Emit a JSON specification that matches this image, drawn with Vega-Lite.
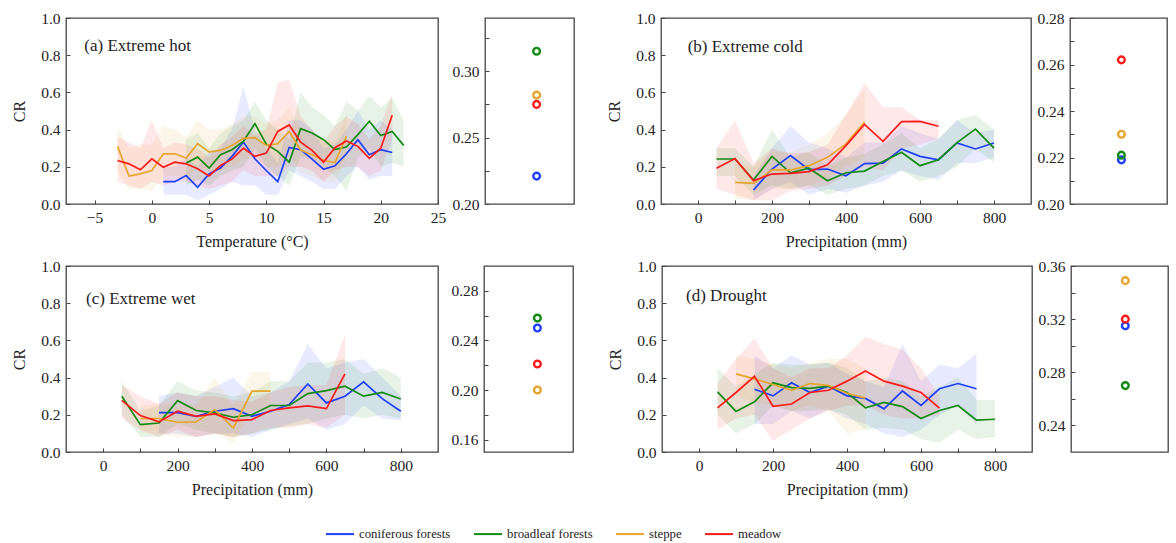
{
  "$schema": "https://vega.github.io/schema/vega-lite/v6.json",
  "background": "white",
  "padding": {"left": 10, "top": 10, "right": 0, "bottom": 0},
  "datasets": {
    "a": [
      {"g":"coniferous forests","x":1,"y":0.12,"lo":0.05,"hi":0.2},
      {"g":"coniferous forests","x":2,"y":0.12,"lo":0.05,"hi":0.2},
      {"g":"coniferous forests","x":3,"y":0.153,"lo":0.05,"hi":0.25},
      {"g":"coniferous forests","x":4,"y":0.09,"lo":0.02,"hi":0.2},
      {"g":"coniferous forests","x":5,"y":0.162,"lo":0.05,"hi":0.28},
      {"g":"coniferous forests","x":6,"y":0.193,"lo":0.08,"hi":0.3},
      {"g":"coniferous forests","x":7,"y":0.256,"lo":0.12,"hi":0.4},
      {"g":"coniferous forests","x":8,"y":0.333,"lo":0.1,"hi":0.63},
      {"g":"coniferous forests","x":9,"y":0.243,"lo":0.1,"hi":0.4},
      {"g":"coniferous forests","x":10,"y":0.18,"lo":0.05,"hi":0.3},
      {"g":"coniferous forests","x":11,"y":0.12,"lo":0.05,"hi":0.22},
      {"g":"coniferous forests","x":12,"y":0.304,"lo":0.18,"hi":0.45},
      {"g":"coniferous forests","x":13,"y":0.292,"lo":0.15,"hi":0.45},
      {"g":"coniferous forests","x":14,"y":0.241,"lo":0.12,"hi":0.4},
      {"g":"coniferous forests","x":15,"y":0.187,"lo":0.08,"hi":0.3},
      {"g":"coniferous forests","x":16,"y":0.205,"lo":0.08,"hi":0.32},
      {"g":"coniferous forests","x":17,"y":0.27,"lo":0.15,"hi":0.4},
      {"g":"coniferous forests","x":18,"y":0.346,"lo":0.2,"hi":0.5},
      {"g":"coniferous forests","x":19,"y":0.265,"lo":0.13,"hi":0.4},
      {"g":"coniferous forests","x":20,"y":0.292,"lo":0.15,"hi":0.45},
      {"g":"coniferous forests","x":21,"y":0.277,"lo":0.15,"hi":0.4},
      {"g":"broadleaf forests","x":3,"y":0.22,"lo":0.1,"hi":0.35},
      {"g":"broadleaf forests","x":4,"y":0.252,"lo":0.13,"hi":0.38},
      {"g":"broadleaf forests","x":5,"y":0.193,"lo":0.1,"hi":0.3},
      {"g":"broadleaf forests","x":6,"y":0.265,"lo":0.15,"hi":0.38},
      {"g":"broadleaf forests","x":7,"y":0.292,"lo":0.18,"hi":0.42},
      {"g":"broadleaf forests","x":8,"y":0.337,"lo":0.2,"hi":0.45},
      {"g":"broadleaf forests","x":9,"y":0.432,"lo":0.3,"hi":0.55},
      {"g":"broadleaf forests","x":10,"y":0.322,"lo":0.2,"hi":0.45},
      {"g":"broadleaf forests","x":11,"y":0.283,"lo":0.15,"hi":0.4},
      {"g":"broadleaf forests","x":12,"y":0.225,"lo":0.1,"hi":0.35},
      {"g":"broadleaf forests","x":13,"y":0.405,"lo":0.25,"hi":0.6},
      {"g":"broadleaf forests","x":14,"y":0.382,"lo":0.25,"hi":0.52},
      {"g":"broadleaf forests","x":15,"y":0.346,"lo":0.2,"hi":0.48},
      {"g":"broadleaf forests","x":16,"y":0.292,"lo":0.15,"hi":0.42},
      {"g":"broadleaf forests","x":17,"y":0.306,"lo":0.07,"hi":0.55},
      {"g":"broadleaf forests","x":18,"y":0.373,"lo":0.25,"hi":0.5},
      {"g":"broadleaf forests","x":19,"y":0.445,"lo":0.3,"hi":0.58},
      {"g":"broadleaf forests","x":20,"y":0.368,"lo":0.2,"hi":0.52},
      {"g":"broadleaf forests","x":21,"y":0.39,"lo":0.22,"hi":0.57},
      {"g":"broadleaf forests","x":22,"y":0.315,"lo":0.2,"hi":0.45},
      {"g":"steppe","x":-3,"y":0.31,"lo":0.18,"hi":0.42},
      {"g":"steppe","x":-2,"y":0.15,"lo":0.08,"hi":0.3},
      {"g":"steppe","x":-1,"y":0.162,"lo":0.08,"hi":0.32},
      {"g":"steppe","x":0,"y":0.18,"lo":0.07,"hi":0.32},
      {"g":"steppe","x":1,"y":0.27,"lo":0.15,"hi":0.42},
      {"g":"steppe","x":2,"y":0.27,"lo":0.15,"hi":0.4},
      {"g":"steppe","x":3,"y":0.247,"lo":0.13,"hi":0.36},
      {"g":"steppe","x":4,"y":0.324,"lo":0.2,"hi":0.45},
      {"g":"steppe","x":5,"y":0.28,"lo":0.17,"hi":0.4},
      {"g":"steppe","x":6,"y":0.288,"lo":0.18,"hi":0.4},
      {"g":"steppe","x":7,"y":0.315,"lo":0.2,"hi":0.43},
      {"g":"steppe","x":8,"y":0.353,"lo":0.24,"hi":0.47},
      {"g":"steppe","x":9,"y":0.357,"lo":0.25,"hi":0.47},
      {"g":"steppe","x":10,"y":0.315,"lo":0.2,"hi":0.43},
      {"g":"steppe","x":11,"y":0.324,"lo":0.2,"hi":0.45},
      {"g":"steppe","x":12,"y":0.39,"lo":0.27,"hi":0.52},
      {"g":"steppe","x":13,"y":0.29,"lo":0.17,"hi":0.4},
      {"g":"steppe","x":14,"y":0.265,"lo":0.15,"hi":0.38},
      {"g":"steppe","x":15,"y":0.234,"lo":0.12,"hi":0.35},
      {"g":"steppe","x":16,"y":0.223,"lo":0.12,"hi":0.33},
      {"g":"steppe","x":17,"y":0.364,"lo":0.25,"hi":0.48},
      {"g":"meadow","x":-3,"y":0.234,"lo":0.12,"hi":0.36},
      {"g":"meadow","x":-2,"y":0.216,"lo":0.1,"hi":0.33},
      {"g":"meadow","x":-1,"y":0.184,"lo":0.08,"hi":0.3},
      {"g":"meadow","x":0,"y":0.243,"lo":0.12,"hi":0.45},
      {"g":"meadow","x":1,"y":0.198,"lo":0.1,"hi":0.3},
      {"g":"meadow","x":2,"y":0.225,"lo":0.12,"hi":0.33},
      {"g":"meadow","x":3,"y":0.216,"lo":0.12,"hi":0.32},
      {"g":"meadow","x":4,"y":0.19,"lo":0.1,"hi":0.3},
      {"g":"meadow","x":5,"y":0.151,"lo":0.08,"hi":0.25},
      {"g":"meadow","x":6,"y":0.207,"lo":0.1,"hi":0.32},
      {"g":"meadow","x":7,"y":0.241,"lo":0.12,"hi":0.36},
      {"g":"meadow","x":8,"y":0.3,"lo":0.18,"hi":0.42},
      {"g":"meadow","x":9,"y":0.256,"lo":0.15,"hi":0.37},
      {"g":"meadow","x":10,"y":0.274,"lo":0.15,"hi":0.4},
      {"g":"meadow","x":11,"y":0.39,"lo":0.15,"hi":0.65},
      {"g":"meadow","x":12,"y":0.425,"lo":0.2,"hi":0.67},
      {"g":"meadow","x":13,"y":0.333,"lo":0.2,"hi":0.47},
      {"g":"meadow","x":14,"y":0.288,"lo":0.18,"hi":0.4},
      {"g":"meadow","x":15,"y":0.225,"lo":0.12,"hi":0.33},
      {"g":"meadow","x":16,"y":0.303,"lo":0.18,"hi":0.42},
      {"g":"meadow","x":17,"y":0.339,"lo":0.2,"hi":0.47},
      {"g":"meadow","x":18,"y":0.31,"lo":0.2,"hi":0.43},
      {"g":"meadow","x":19,"y":0.245,"lo":0.15,"hi":0.35},
      {"g":"meadow","x":20,"y":0.3,"lo":0.18,"hi":0.42},
      {"g":"meadow","x":21,"y":0.477,"lo":0.35,"hi":0.6}
    ],
    "b": [
      {"g":"coniferous forests","x":150,"y":0.075,"lo":0.02,"hi":0.15},
      {"g":"coniferous forests","x":200,"y":0.188,"lo":0.08,"hi":0.3},
      {"g":"coniferous forests","x":250,"y":0.26,"lo":0.12,"hi":0.42},
      {"g":"coniferous forests","x":300,"y":0.185,"lo":0.05,"hi":0.33},
      {"g":"coniferous forests","x":350,"y":0.188,"lo":0.08,"hi":0.3},
      {"g":"coniferous forests","x":400,"y":0.152,"lo":0.06,"hi":0.25},
      {"g":"coniferous forests","x":450,"y":0.217,"lo":0.1,"hi":0.33},
      {"g":"coniferous forests","x":500,"y":0.22,"lo":0.12,"hi":0.33},
      {"g":"coniferous forests","x":550,"y":0.296,"lo":0.18,"hi":0.42},
      {"g":"coniferous forests","x":600,"y":0.256,"lo":0.15,"hi":0.38},
      {"g":"coniferous forests","x":650,"y":0.238,"lo":0.13,"hi":0.35},
      {"g":"coniferous forests","x":700,"y":0.328,"lo":0.22,"hi":0.45},
      {"g":"coniferous forests","x":750,"y":0.296,"lo":0.22,"hi":0.38},
      {"g":"coniferous forests","x":800,"y":0.328,"lo":0.25,"hi":0.4},
      {"g":"broadleaf forests","x":50,"y":0.242,"lo":0.15,"hi":0.3},
      {"g":"broadleaf forests","x":100,"y":0.242,"lo":0.15,"hi":0.3},
      {"g":"broadleaf forests","x":150,"y":0.129,"lo":0.05,"hi":0.2},
      {"g":"broadleaf forests","x":200,"y":0.256,"lo":0.1,"hi":0.4},
      {"g":"broadleaf forests","x":250,"y":0.167,"lo":0.08,"hi":0.25},
      {"g":"broadleaf forests","x":300,"y":0.192,"lo":0.1,"hi":0.28},
      {"g":"broadleaf forests","x":350,"y":0.125,"lo":0.05,"hi":0.2},
      {"g":"broadleaf forests","x":400,"y":0.168,"lo":0.08,"hi":0.25},
      {"g":"broadleaf forests","x":450,"y":0.177,"lo":0.1,"hi":0.27},
      {"g":"broadleaf forests","x":500,"y":0.229,"lo":0.15,"hi":0.32},
      {"g":"broadleaf forests","x":550,"y":0.278,"lo":0.18,"hi":0.38},
      {"g":"broadleaf forests","x":600,"y":0.206,"lo":0.12,"hi":0.3},
      {"g":"broadleaf forests","x":650,"y":0.238,"lo":0.15,"hi":0.35},
      {"g":"broadleaf forests","x":700,"y":0.33,"lo":0.2,"hi":0.45},
      {"g":"broadleaf forests","x":750,"y":0.403,"lo":0.3,"hi":0.48},
      {"g":"broadleaf forests","x":800,"y":0.3,"lo":0.22,"hi":0.4},
      {"g":"steppe","x":100,"y":0.116,"lo":0.03,"hi":0.22},
      {"g":"steppe","x":150,"y":0.111,"lo":0.02,"hi":0.2},
      {"g":"steppe","x":200,"y":0.183,"lo":0.08,"hi":0.28},
      {"g":"steppe","x":250,"y":0.183,"lo":0.08,"hi":0.28},
      {"g":"steppe","x":300,"y":0.206,"lo":0.1,"hi":0.32},
      {"g":"steppe","x":350,"y":0.251,"lo":0.13,"hi":0.38},
      {"g":"steppe","x":400,"y":0.323,"lo":0.2,"hi":0.48},
      {"g":"steppe","x":450,"y":0.44,"lo":0.25,"hi":0.62},
      {"g":"meadow","x":50,"y":0.192,"lo":0.08,"hi":0.3},
      {"g":"meadow","x":100,"y":0.244,"lo":0.05,"hi":0.45},
      {"g":"meadow","x":150,"y":0.125,"lo":0.02,"hi":0.22},
      {"g":"meadow","x":200,"y":0.161,"lo":0.02,"hi":0.3},
      {"g":"meadow","x":250,"y":0.165,"lo":0.07,"hi":0.27},
      {"g":"meadow","x":300,"y":0.174,"lo":0.08,"hi":0.28},
      {"g":"meadow","x":350,"y":0.211,"lo":0.1,"hi":0.32},
      {"g":"meadow","x":400,"y":0.314,"lo":0.15,"hi":0.48},
      {"g":"meadow","x":450,"y":0.428,"lo":0.2,"hi":0.65},
      {"g":"meadow","x":500,"y":0.337,"lo":0.18,"hi":0.52},
      {"g":"meadow","x":550,"y":0.443,"lo":0.3,"hi":0.52},
      {"g":"meadow","x":600,"y":0.444,"lo":0.32,"hi":0.45},
      {"g":"meadow","x":650,"y":0.418,"lo":0.35,"hi":0.45}
    ],
    "c": [
      {"g":"coniferous forests","x":150,"y":0.212,"lo":0.1,"hi":0.3},
      {"g":"coniferous forests","x":200,"y":0.212,"lo":0.1,"hi":0.32},
      {"g":"coniferous forests","x":250,"y":0.192,"lo":0.08,"hi":0.3},
      {"g":"coniferous forests","x":300,"y":0.219,"lo":0.1,"hi":0.35},
      {"g":"coniferous forests","x":350,"y":0.233,"lo":0.1,"hi":0.4},
      {"g":"coniferous forests","x":400,"y":0.192,"lo":0.08,"hi":0.3},
      {"g":"coniferous forests","x":450,"y":0.219,"lo":0.12,"hi":0.32},
      {"g":"coniferous forests","x":500,"y":0.255,"lo":0.15,"hi":0.38},
      {"g":"coniferous forests","x":550,"y":0.366,"lo":0.18,"hi":0.58},
      {"g":"coniferous forests","x":600,"y":0.264,"lo":0.12,"hi":0.45},
      {"g":"coniferous forests","x":650,"y":0.3,"lo":0.15,"hi":0.48},
      {"g":"coniferous forests","x":700,"y":0.377,"lo":0.25,"hi":0.5},
      {"g":"coniferous forests","x":750,"y":0.287,"lo":0.18,"hi":0.4},
      {"g":"coniferous forests","x":800,"y":0.219,"lo":0.17,"hi":0.3},
      {"g":"broadleaf forests","x":50,"y":0.3,"lo":0.2,"hi":0.38},
      {"g":"broadleaf forests","x":100,"y":0.147,"lo":0.08,"hi":0.22},
      {"g":"broadleaf forests","x":150,"y":0.156,"lo":0.08,"hi":0.25},
      {"g":"broadleaf forests","x":200,"y":0.276,"lo":0.15,"hi":0.38},
      {"g":"broadleaf forests","x":250,"y":0.223,"lo":0.12,"hi":0.33},
      {"g":"broadleaf forests","x":300,"y":0.21,"lo":0.1,"hi":0.32},
      {"g":"broadleaf forests","x":350,"y":0.187,"lo":0.08,"hi":0.3},
      {"g":"broadleaf forests","x":400,"y":0.201,"lo":0.1,"hi":0.32},
      {"g":"broadleaf forests","x":450,"y":0.25,"lo":0.12,"hi":0.38},
      {"g":"broadleaf forests","x":500,"y":0.25,"lo":0.14,"hi":0.38},
      {"g":"broadleaf forests","x":550,"y":0.314,"lo":0.15,"hi":0.48},
      {"g":"broadleaf forests","x":600,"y":0.33,"lo":0.18,"hi":0.48},
      {"g":"broadleaf forests","x":650,"y":0.354,"lo":0.2,"hi":0.5},
      {"g":"broadleaf forests","x":700,"y":0.3,"lo":0.18,"hi":0.42},
      {"g":"broadleaf forests","x":750,"y":0.32,"lo":0.2,"hi":0.45},
      {"g":"broadleaf forests","x":800,"y":0.285,"lo":0.18,"hi":0.4},
      {"g":"steppe","x":100,"y":0.18,"lo":0.1,"hi":0.25},
      {"g":"steppe","x":150,"y":0.18,"lo":0.1,"hi":0.26},
      {"g":"steppe","x":200,"y":0.16,"lo":0.08,"hi":0.25},
      {"g":"steppe","x":250,"y":0.162,"lo":0.08,"hi":0.25},
      {"g":"steppe","x":300,"y":0.228,"lo":0.1,"hi":0.4},
      {"g":"steppe","x":350,"y":0.129,"lo":0.05,"hi":0.25},
      {"g":"steppe","x":400,"y":0.327,"lo":0.22,"hi":0.43},
      {"g":"steppe","x":450,"y":0.327,"lo":0.22,"hi":0.43},
      {"g":"meadow","x":50,"y":0.278,"lo":0.18,"hi":0.36},
      {"g":"meadow","x":100,"y":0.196,"lo":0.12,"hi":0.3},
      {"g":"meadow","x":150,"y":0.162,"lo":0.08,"hi":0.26},
      {"g":"meadow","x":200,"y":0.219,"lo":0.12,"hi":0.32},
      {"g":"meadow","x":250,"y":0.192,"lo":0.08,"hi":0.3},
      {"g":"meadow","x":300,"y":0.205,"lo":0.1,"hi":0.3},
      {"g":"meadow","x":350,"y":0.169,"lo":0.08,"hi":0.28},
      {"g":"meadow","x":400,"y":0.174,"lo":0.1,"hi":0.27},
      {"g":"meadow","x":450,"y":0.223,"lo":0.13,"hi":0.32},
      {"g":"meadow","x":500,"y":0.237,"lo":0.13,"hi":0.35},
      {"g":"meadow","x":550,"y":0.248,"lo":0.15,"hi":0.36},
      {"g":"meadow","x":600,"y":0.233,"lo":0.13,"hi":0.36},
      {"g":"meadow","x":650,"y":0.42,"lo":0.2,"hi":0.63}
    ],
    "d": [
      {"g":"coniferous forests","x":150,"y":0.337,"lo":0.15,"hi":0.52},
      {"g":"coniferous forests","x":200,"y":0.302,"lo":0.15,"hi":0.45},
      {"g":"coniferous forests","x":250,"y":0.372,"lo":0.22,"hi":0.52},
      {"g":"coniferous forests","x":300,"y":0.32,"lo":0.18,"hi":0.47},
      {"g":"coniferous forests","x":350,"y":0.354,"lo":0.23,"hi":0.48},
      {"g":"coniferous forests","x":400,"y":0.302,"lo":0.18,"hi":0.42},
      {"g":"coniferous forests","x":450,"y":0.288,"lo":0.15,"hi":0.38},
      {"g":"coniferous forests","x":500,"y":0.232,"lo":0.1,"hi":0.35},
      {"g":"coniferous forests","x":550,"y":0.328,"lo":0.08,"hi":0.58},
      {"g":"coniferous forests","x":600,"y":0.25,"lo":0.12,"hi":0.38},
      {"g":"coniferous forests","x":650,"y":0.34,"lo":0.2,"hi":0.47},
      {"g":"coniferous forests","x":700,"y":0.368,"lo":0.25,"hi":0.45},
      {"g":"coniferous forests","x":750,"y":0.34,"lo":0.15,"hi":0.53},
      {"g":"broadleaf forests","x":50,"y":0.323,"lo":0.2,"hi":0.45},
      {"g":"broadleaf forests","x":100,"y":0.218,"lo":0.1,"hi":0.35},
      {"g":"broadleaf forests","x":150,"y":0.27,"lo":0.15,"hi":0.42},
      {"g":"broadleaf forests","x":200,"y":0.372,"lo":0.25,"hi":0.48},
      {"g":"broadleaf forests","x":250,"y":0.346,"lo":0.22,"hi":0.47},
      {"g":"broadleaf forests","x":300,"y":0.342,"lo":0.22,"hi":0.47},
      {"g":"broadleaf forests","x":350,"y":0.354,"lo":0.23,"hi":0.48},
      {"g":"broadleaf forests","x":400,"y":0.32,"lo":0.2,"hi":0.45},
      {"g":"broadleaf forests","x":450,"y":0.237,"lo":0.12,"hi":0.38},
      {"g":"broadleaf forests","x":500,"y":0.267,"lo":0.13,"hi":0.4},
      {"g":"broadleaf forests","x":550,"y":0.244,"lo":0.12,"hi":0.38},
      {"g":"broadleaf forests","x":600,"y":0.18,"lo":0.07,"hi":0.3},
      {"g":"broadleaf forests","x":650,"y":0.223,"lo":0.05,"hi":0.35},
      {"g":"broadleaf forests","x":700,"y":0.25,"lo":0.12,"hi":0.4},
      {"g":"broadleaf forests","x":750,"y":0.171,"lo":0.07,"hi":0.28},
      {"g":"broadleaf forests","x":800,"y":0.176,"lo":0.08,"hi":0.28},
      {"g":"steppe","x":100,"y":0.42,"lo":0.3,"hi":0.52},
      {"g":"steppe","x":150,"y":0.393,"lo":0.27,"hi":0.5},
      {"g":"steppe","x":200,"y":0.363,"lo":0.25,"hi":0.47},
      {"g":"steppe","x":250,"y":0.332,"lo":0.22,"hi":0.45},
      {"g":"steppe","x":300,"y":0.368,"lo":0.25,"hi":0.48},
      {"g":"steppe","x":350,"y":0.358,"lo":0.22,"hi":0.5},
      {"g":"steppe","x":400,"y":0.316,"lo":0.1,"hi":0.5},
      {"g":"steppe","x":450,"y":0.29,"lo":0.12,"hi":0.45},
      {"g":"meadow","x":50,"y":0.237,"lo":0.12,"hi":0.37},
      {"g":"meadow","x":100,"y":0.32,"lo":0.18,"hi":0.5},
      {"g":"meadow","x":150,"y":0.407,"lo":0.2,"hi":0.61},
      {"g":"meadow","x":200,"y":0.246,"lo":0.06,"hi":0.45},
      {"g":"meadow","x":250,"y":0.258,"lo":0.12,"hi":0.4},
      {"g":"meadow","x":300,"y":0.32,"lo":0.18,"hi":0.45},
      {"g":"meadow","x":350,"y":0.332,"lo":0.22,"hi":0.45},
      {"g":"meadow","x":400,"y":0.381,"lo":0.25,"hi":0.52},
      {"g":"meadow","x":450,"y":0.436,"lo":0.25,"hi":0.62},
      {"g":"meadow","x":500,"y":0.381,"lo":0.2,"hi":0.58},
      {"g":"meadow","x":550,"y":0.354,"lo":0.18,"hi":0.55},
      {"g":"meadow","x":600,"y":0.32,"lo":0.18,"hi":0.45},
      {"g":"meadow","x":650,"y":0.236,"lo":0.2,"hi":0.3}
    ],
    "means": [
      {"p":"a","g":"coniferous forests","v":0.221},
      {"p":"a","g":"broadleaf forests","v":0.315},
      {"p":"a","g":"steppe","v":0.282},
      {"p":"a","g":"meadow","v":0.275},
      {"p":"b","g":"coniferous forests","v":0.219},
      {"p":"b","g":"broadleaf forests","v":0.221},
      {"p":"b","g":"steppe","v":0.23},
      {"p":"b","g":"meadow","v":0.262},
      {"p":"c","g":"coniferous forests","v":0.25},
      {"p":"c","g":"broadleaf forests","v":0.258},
      {"p":"c","g":"steppe","v":0.2},
      {"p":"c","g":"meadow","v":0.221},
      {"p":"d","g":"coniferous forests","v":0.315},
      {"p":"d","g":"broadleaf forests","v":0.27},
      {"p":"d","g":"steppe","v":0.349},
      {"p":"d","g":"meadow","v":0.32}
    ]
  },
  "vconcat": [
    {
      "hconcat": [
        {
          "hconcat": [
            {
              "width": 372, "height": 186,
              "layer": [
                {"data": {"name": "a"}, "mark": {"type": "area", "opacity": 0.1},
                 "encoding": {
                   "x": {"field": "x", "type": "quantitative", "scale": {"domain": [-7.5, 25], "nice": false, "zero": false}, "axis": {"title": "Temperature (°C)", "values": [-5, 0, 5, 10, 15, 20, 25], "tickCount": 40, "labelFlush": false, "labelOverlap": false}},
                   "y": {"field": "lo", "type": "quantitative", "scale": {"domain": [0, 1], "nice": false}, "axis": {"title": "CR", "values": [0, 0.2, 0.4, 0.6, 0.8, 1.0], "tickCount": 40, "format": ".1f", "labelOverlap": false}},
                   "y2": {"field": "hi"},
                   "color": {"field": "g", "type": "nominal", "scale": {"domain": ["coniferous forests", "broadleaf forests", "steppe", "meadow"], "range": ["#1f3fff", "#138a13", "#e6a52e", "#ff1a1a"]}, "legend": {"orient": "none", "legendX": 259, "legendY": 501, "direction": "horizontal", "title": null, "symbolType": "stroke", "symbolStrokeWidth": 2, "symbolSize": 784, "symbolOpacity": 1, "labelFont": "Liberation Serif", "labelFontSize": 12.8, "labelColor": "#222", "columnPadding": 19, "labelOffset": 4, "padding": 0}}
                 }},
                {"data": {"name": "a"}, "mark": {"type": "line", "strokeWidth": 1.7},
                 "encoding": {
                   "x": {"field": "x", "type": "quantitative"},
                   "y": {"field": "y", "type": "quantitative"},
                   "color": {"field": "g", "type": "nominal", "scale": {"domain": ["coniferous forests", "broadleaf forests", "steppe", "meadow"], "range": ["#1f3fff", "#138a13", "#e6a52e", "#ff1a1a"]}, "legend": {"orient": "none", "legendX": 259, "legendY": 501, "direction": "horizontal", "title": null, "symbolType": "stroke", "symbolStrokeWidth": 2, "symbolSize": 784, "symbolOpacity": 1, "labelFont": "Liberation Serif", "labelFontSize": 12.8, "labelColor": "#222", "columnPadding": 19, "labelOffset": 4, "padding": 0}}
                 }},
                {"data": {"values": [{}]}, "mark": {"type": "text", "text": "(a) Extreme hot", "align": "left", "baseline": "middle", "font": "Liberation Serif", "fontSize": 17, "color": "#222"},
                 "encoding": {"x": {"datum": -5.9, "type": "quantitative"}, "y": {"datum": 0.852, "type": "quantitative"}}}
              ]
            },
            {
              "width": 89, "height": 186,
              "data": {"name": "means"},
              "transform": [{"filter": "datum.p == 'a'"}],
              "mark": {"type": "point", "filled": false, "size": 45, "strokeWidth": 2.4, "opacity": 1},
              "encoding": {
                "x": {"datum": 0.58, "type": "quantitative", "scale": {"domain": [0, 1]}, "axis": null},
                "y": {"field": "v", "type": "quantitative", "scale": {"domain": [0.2, 0.34], "nice": false, "zero": false}, "axis": {"title": null, "values": [0.2, 0.225, 0.25, 0.275, 0.3, 0.325], "tickCount": 40, "labelOverlap": false, "labelExpr": "indexof(['0.20','0.25','0.30'], format(datum.value, '.2f')) >= 0 ? format(datum.value, '.2f') : ''"}},
                "color": {"field": "g", "type": "nominal", "scale": {"domain": ["coniferous forests", "broadleaf forests", "steppe", "meadow"], "range": ["#1f3fff", "#138a13", "#e6a52e", "#ff1a1a"]}, "legend": {"orient": "none", "legendX": 259, "legendY": 501, "direction": "horizontal", "title": null, "symbolType": "stroke", "symbolStrokeWidth": 2, "symbolSize": 784, "symbolOpacity": 1, "labelFont": "Liberation Serif", "labelFontSize": 12.8, "labelColor": "#222", "columnPadding": 19, "labelOffset": 4, "padding": 0}}
              }
            }
          ],
          "spacing": 4
        },
        {
          "hconcat": [
            {
              "width": 370, "height": 186,
              "layer": [
                {"data": {"name": "b"}, "mark": {"type": "area", "opacity": 0.1},
                 "encoding": {
                   "x": {"field": "x", "type": "quantitative", "scale": {"domain": [-100, 900], "nice": false, "zero": false}, "axis": {"title": "Precipitation (mm)", "values": [0, 100, 200, 300, 400, 500, 600, 700, 800], "tickCount": 40, "labelExpr": "datum.value % 200 == 0 ? datum.label : ''", "labelFlush": false, "labelOverlap": false}},
                   "y": {"field": "lo", "type": "quantitative", "scale": {"domain": [0, 1], "nice": false}, "axis": {"title": "CR", "values": [0, 0.2, 0.4, 0.6, 0.8, 1.0], "tickCount": 40, "format": ".1f", "labelOverlap": false}},
                   "y2": {"field": "hi"},
                   "color": {"field": "g", "type": "nominal", "scale": {"domain": ["coniferous forests", "broadleaf forests", "steppe", "meadow"], "range": ["#1f3fff", "#138a13", "#e6a52e", "#ff1a1a"]}, "legend": {"orient": "none", "legendX": 259, "legendY": 501, "direction": "horizontal", "title": null, "symbolType": "stroke", "symbolStrokeWidth": 2, "symbolSize": 784, "symbolOpacity": 1, "labelFont": "Liberation Serif", "labelFontSize": 12.8, "labelColor": "#222", "columnPadding": 19, "labelOffset": 4, "padding": 0}}
                 }},
                {"data": {"name": "b"}, "mark": {"type": "line", "strokeWidth": 1.7},
                 "encoding": {
                   "x": {"field": "x", "type": "quantitative"},
                   "y": {"field": "y", "type": "quantitative"},
                   "color": {"field": "g", "type": "nominal", "scale": {"domain": ["coniferous forests", "broadleaf forests", "steppe", "meadow"], "range": ["#1f3fff", "#138a13", "#e6a52e", "#ff1a1a"]}, "legend": {"orient": "none", "legendX": 259, "legendY": 501, "direction": "horizontal", "title": null, "symbolType": "stroke", "symbolStrokeWidth": 2, "symbolSize": 784, "symbolOpacity": 1, "labelFont": "Liberation Serif", "labelFontSize": 12.8, "labelColor": "#222", "columnPadding": 19, "labelOffset": 4, "padding": 0}}
                 }},
                {"data": {"values": [{}]}, "mark": {"type": "text", "text": "(b) Extreme cold", "align": "left", "baseline": "middle", "font": "Liberation Serif", "fontSize": 17, "color": "#222"},
                 "encoding": {"x": {"datum": -28, "type": "quantitative"}, "y": {"datum": 0.844, "type": "quantitative"}}}
              ]
            },
            {
              "width": 97, "height": 186,
              "data": {"name": "means"},
              "transform": [{"filter": "datum.p == 'b'"}],
              "mark": {"type": "point", "filled": false, "size": 45, "strokeWidth": 2.4, "opacity": 1},
              "encoding": {
                "x": {"datum": 0.53, "type": "quantitative", "scale": {"domain": [0, 1]}, "axis": null},
                "y": {"field": "v", "type": "quantitative", "scale": {"domain": [0.2, 0.28], "nice": false, "zero": false}, "axis": {"title": null, "values": [0.2, 0.21, 0.22, 0.23, 0.24, 0.25, 0.26, 0.27, 0.28], "tickCount": 40, "labelOverlap": false, "labelExpr": "indexof(['0.20','0.22','0.24','0.26','0.28'], format(datum.value, '.2f')) >= 0 ? format(datum.value, '.2f') : ''"}},
                "color": {"field": "g", "type": "nominal", "scale": {"domain": ["coniferous forests", "broadleaf forests", "steppe", "meadow"], "range": ["#1f3fff", "#138a13", "#e6a52e", "#ff1a1a"]}, "legend": {"orient": "none", "legendX": 259, "legendY": 501, "direction": "horizontal", "title": null, "symbolType": "stroke", "symbolStrokeWidth": 2, "symbolSize": 784, "symbolOpacity": 1, "labelFont": "Liberation Serif", "labelFontSize": 12.8, "labelColor": "#222", "columnPadding": 19, "labelOffset": 4, "padding": 0}}
              }
            }
          ],
          "spacing": 4
        }
      ],
      "spacing": 30
    },
    {
      "hconcat": [
        {
          "hconcat": [
            {
              "width": 372, "height": 186,
              "layer": [
                {"data": {"name": "c"}, "mark": {"type": "area", "opacity": 0.1},
                 "encoding": {
                   "x": {"field": "x", "type": "quantitative", "scale": {"domain": [-100, 900], "nice": false, "zero": false}, "axis": {"title": "Precipitation (mm)", "values": [0, 100, 200, 300, 400, 500, 600, 700, 800], "tickCount": 40, "labelExpr": "datum.value % 200 == 0 ? datum.label : ''", "labelFlush": false, "labelOverlap": false}},
                   "y": {"field": "lo", "type": "quantitative", "scale": {"domain": [0, 1], "nice": false}, "axis": {"title": "CR", "values": [0, 0.2, 0.4, 0.6, 0.8, 1.0], "tickCount": 40, "format": ".1f", "labelOverlap": false}},
                   "y2": {"field": "hi"},
                   "color": {"field": "g", "type": "nominal", "scale": {"domain": ["coniferous forests", "broadleaf forests", "steppe", "meadow"], "range": ["#1f3fff", "#138a13", "#e6a52e", "#ff1a1a"]}, "legend": {"orient": "none", "legendX": 259, "legendY": 501, "direction": "horizontal", "title": null, "symbolType": "stroke", "symbolStrokeWidth": 2, "symbolSize": 784, "symbolOpacity": 1, "labelFont": "Liberation Serif", "labelFontSize": 12.8, "labelColor": "#222", "columnPadding": 19, "labelOffset": 4, "padding": 0}}
                 }},
                {"data": {"name": "c"}, "mark": {"type": "line", "strokeWidth": 1.7},
                 "encoding": {
                   "x": {"field": "x", "type": "quantitative"},
                   "y": {"field": "y", "type": "quantitative"},
                   "color": {"field": "g", "type": "nominal", "scale": {"domain": ["coniferous forests", "broadleaf forests", "steppe", "meadow"], "range": ["#1f3fff", "#138a13", "#e6a52e", "#ff1a1a"]}, "legend": {"orient": "none", "legendX": 259, "legendY": 501, "direction": "horizontal", "title": null, "symbolType": "stroke", "symbolStrokeWidth": 2, "symbolSize": 784, "symbolOpacity": 1, "labelFont": "Liberation Serif", "labelFontSize": 12.8, "labelColor": "#222", "columnPadding": 19, "labelOffset": 4, "padding": 0}}
                 }},
                {"data": {"values": [{}]}, "mark": {"type": "text", "text": "(c) Extreme wet", "align": "left", "baseline": "middle", "font": "Liberation Serif", "fontSize": 17, "color": "#222"},
                 "encoding": {"x": {"datum": -46, "type": "quantitative"}, "y": {"datum": 0.824, "type": "quantitative"}}}
              ]
            },
            {
              "width": 89, "height": 186,
              "data": {"name": "means"},
              "transform": [{"filter": "datum.p == 'c'"}],
              "mark": {"type": "point", "filled": false, "size": 45, "strokeWidth": 2.4, "opacity": 1},
              "encoding": {
                "x": {"datum": 0.6, "type": "quantitative", "scale": {"domain": [0, 1]}, "axis": null},
                "y": {"field": "v", "type": "quantitative", "scale": {"domain": [0.15, 0.3], "nice": false, "zero": false}, "axis": {"title": null, "values": [0.16, 0.18, 0.2, 0.22, 0.24, 0.26, 0.28], "tickCount": 40, "labelOverlap": false, "labelExpr": "indexof(['0.16','0.20','0.24','0.28'], format(datum.value, '.2f')) >= 0 ? format(datum.value, '.2f') : ''"}},
                "color": {"field": "g", "type": "nominal", "scale": {"domain": ["coniferous forests", "broadleaf forests", "steppe", "meadow"], "range": ["#1f3fff", "#138a13", "#e6a52e", "#ff1a1a"]}, "legend": {"orient": "none", "legendX": 259, "legendY": 501, "direction": "horizontal", "title": null, "symbolType": "stroke", "symbolStrokeWidth": 2, "symbolSize": 784, "symbolOpacity": 1, "labelFont": "Liberation Serif", "labelFontSize": 12.8, "labelColor": "#222", "columnPadding": 19, "labelOffset": 4, "padding": 0}}
              }
            }
          ],
          "spacing": 11
        },
        {
          "hconcat": [
            {
              "width": 370, "height": 186,
              "layer": [
                {"data": {"name": "d"}, "mark": {"type": "area", "opacity": 0.1},
                 "encoding": {
                   "x": {"field": "x", "type": "quantitative", "scale": {"domain": [-100, 900], "nice": false, "zero": false}, "axis": {"title": "Precipitation (mm)", "values": [0, 100, 200, 300, 400, 500, 600, 700, 800], "tickCount": 40, "labelExpr": "datum.value % 200 == 0 ? datum.label : ''", "labelFlush": false, "labelOverlap": false}},
                   "y": {"field": "lo", "type": "quantitative", "scale": {"domain": [0, 1], "nice": false}, "axis": {"title": "CR", "values": [0, 0.2, 0.4, 0.6, 0.8, 1.0], "tickCount": 40, "format": ".1f", "labelOverlap": false}},
                   "y2": {"field": "hi"},
                   "color": {"field": "g", "type": "nominal", "scale": {"domain": ["coniferous forests", "broadleaf forests", "steppe", "meadow"], "range": ["#1f3fff", "#138a13", "#e6a52e", "#ff1a1a"]}, "legend": {"orient": "none", "legendX": 259, "legendY": 501, "direction": "horizontal", "title": null, "symbolType": "stroke", "symbolStrokeWidth": 2, "symbolSize": 784, "symbolOpacity": 1, "labelFont": "Liberation Serif", "labelFontSize": 12.8, "labelColor": "#222", "columnPadding": 19, "labelOffset": 4, "padding": 0}}
                 }},
                {"data": {"name": "d"}, "mark": {"type": "line", "strokeWidth": 1.7},
                 "encoding": {
                   "x": {"field": "x", "type": "quantitative"},
                   "y": {"field": "y", "type": "quantitative"},
                   "color": {"field": "g", "type": "nominal", "scale": {"domain": ["coniferous forests", "broadleaf forests", "steppe", "meadow"], "range": ["#1f3fff", "#138a13", "#e6a52e", "#ff1a1a"]}, "legend": {"orient": "none", "legendX": 259, "legendY": 501, "direction": "horizontal", "title": null, "symbolType": "stroke", "symbolStrokeWidth": 2, "symbolSize": 784, "symbolOpacity": 1, "labelFont": "Liberation Serif", "labelFontSize": 12.8, "labelColor": "#222", "columnPadding": 19, "labelOffset": 4, "padding": 0}}
                 }},
                {"data": {"values": [{}]}, "mark": {"type": "text", "text": "(d) Drought", "align": "left", "baseline": "middle", "font": "Liberation Serif", "fontSize": 17, "color": "#222"},
                 "encoding": {"x": {"datum": -35, "type": "quantitative"}, "y": {"datum": 0.84, "type": "quantitative"}}}
              ]
            },
            {
              "width": 97, "height": 186,
              "data": {"name": "means"},
              "transform": [{"filter": "datum.p == 'd'"}],
              "mark": {"type": "point", "filled": false, "size": 45, "strokeWidth": 2.4, "opacity": 1},
              "encoding": {
                "x": {"datum": 0.56, "type": "quantitative", "scale": {"domain": [0, 1]}, "axis": null},
                "y": {"field": "v", "type": "quantitative", "scale": {"domain": [0.22, 0.36], "nice": false, "zero": false}, "axis": {"title": null, "values": [0.24, 0.26, 0.28, 0.3, 0.32, 0.34, 0.36], "tickCount": 40, "labelOverlap": false, "labelExpr": "indexof(['0.24','0.28','0.32','0.36'], format(datum.value, '.2f')) >= 0 ? format(datum.value, '.2f') : ''"}},
                "color": {"field": "g", "type": "nominal", "scale": {"domain": ["coniferous forests", "broadleaf forests", "steppe", "meadow"], "range": ["#1f3fff", "#138a13", "#e6a52e", "#ff1a1a"]}, "legend": {"orient": "none", "legendX": 259, "legendY": 501, "direction": "horizontal", "title": null, "symbolType": "stroke", "symbolStrokeWidth": 2, "symbolSize": 784, "symbolOpacity": 1, "labelFont": "Liberation Serif", "labelFontSize": 12.8, "labelColor": "#222", "columnPadding": 19, "labelOffset": 4, "padding": 0}}
              }
            }
          ],
          "spacing": 4
        }
      ],
      "spacing": 32
    }
  ],
  "spacing": 7,
  "config": {
    "font": "Liberation Serif",
    "view": {"stroke": "#444", "strokeWidth": 1.3},
    "axis": {"labelFont": "Liberation Serif", "labelFontSize": 15.5, "labelColor": "#222", "titleFont": "Liberation Serif", "titleFontSize": 16, "titleFontWeight": "normal", "titleColor": "#222", "grid": false, "domain": false, "tickSize": -4, "tickColor": "#444", "tickWidth": 1, "labelPadding": 10, "labelOverlap": false},
    "axisX": {"titlePadding": 8},
    "axisY": {"titlePadding": 13}
  }
}
